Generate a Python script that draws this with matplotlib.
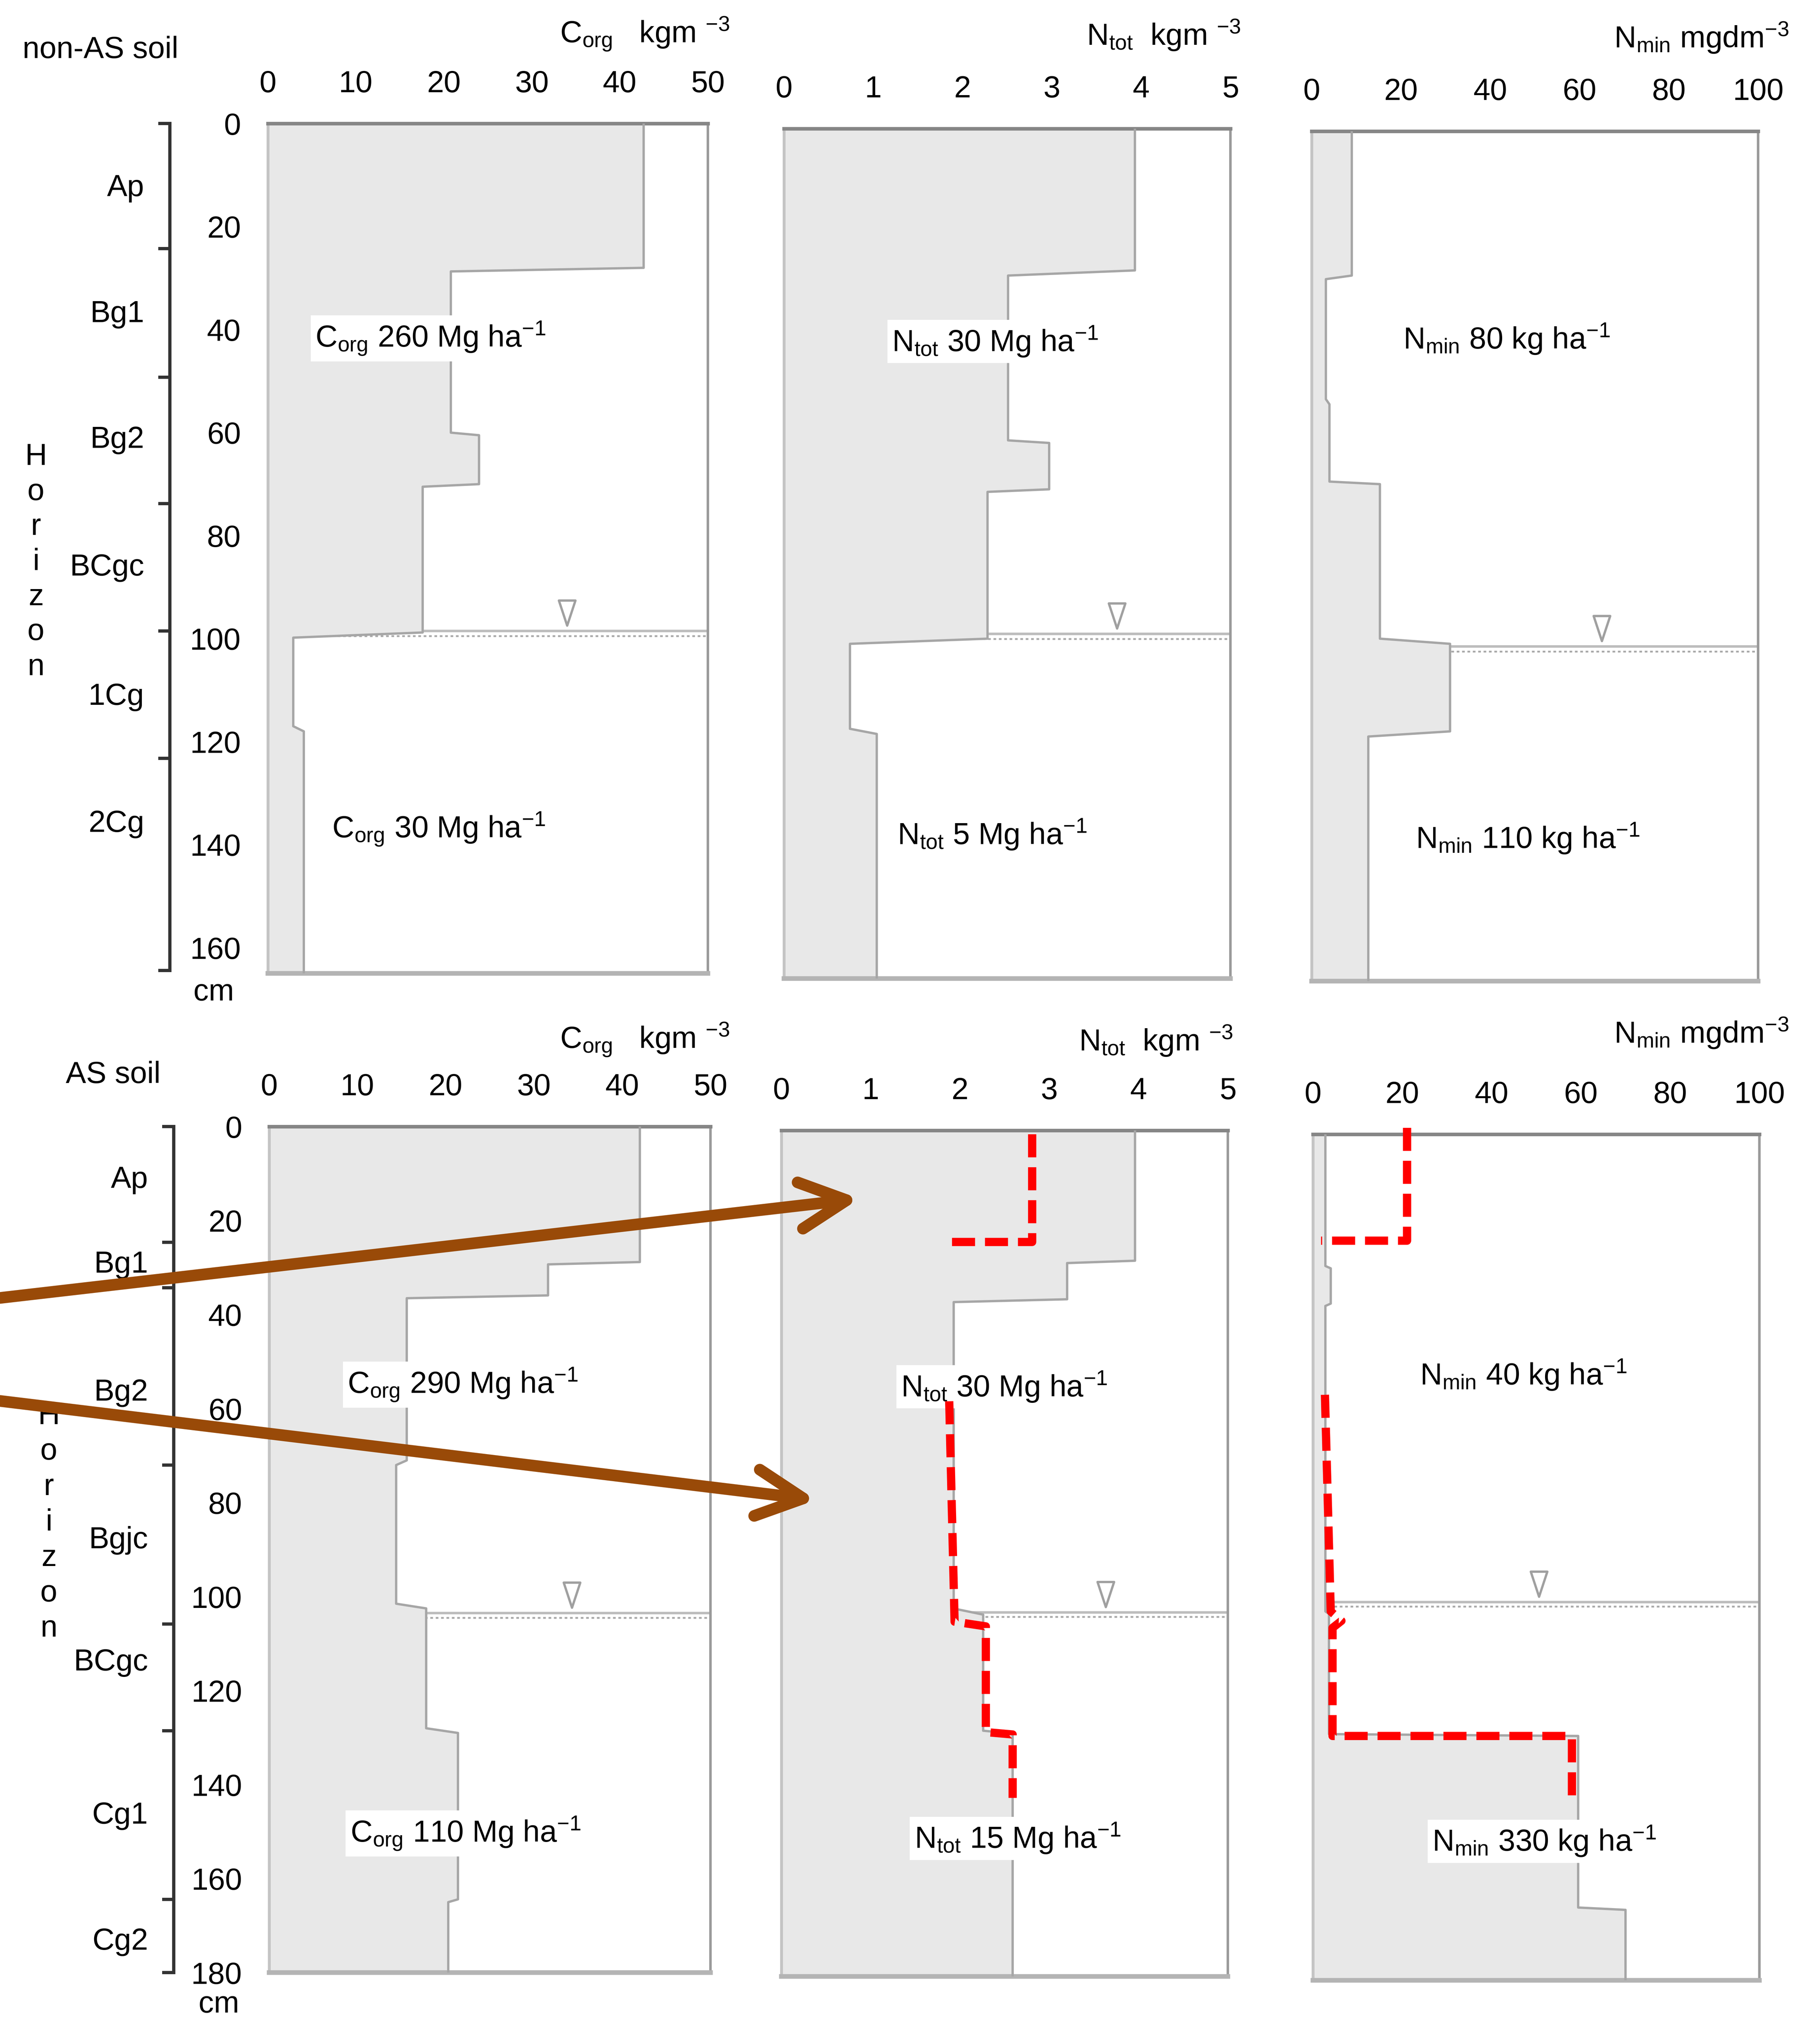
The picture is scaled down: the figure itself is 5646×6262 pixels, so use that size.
import numpy as np
import matplotlib
matplotlib.use("Agg")
import matplotlib.pyplot as plt
from matplotlib import font_manager
from matplotlib.path import Path
from matplotlib.patches import ConnectionPatch
from matplotlib.transforms import ScaledTranslation, blended_transform_factory

# font: narrow sans if there is one, otherwise Arial-like Liberation Sans
names_installed = {f.name for f in font_manager.fontManager.ttflist}
if "Liberation Sans Narrow" in names_installed:
    FAMILY, FS = "Liberation Sans Narrow", 19
else:
    FAMILY, FS = "Liberation Sans", 17
plt.rcParams["font.family"] = [FAMILY, "DejaVu Sans"]
plt.rcParams["mathtext.default"] = "regular"

# -----------------------------
# data (depth in cm)
# -----------------------------
# non-AS soil
hor_nonas = ["Ap", "Bg1", "Bg2", "BCgc", "1Cg", "2Cg"]
hor_bounds_nonas = [0, 24.25, 49.25, 73.75, 98.5, 123.25, 164.4]
hor_label_d_nonas = [12.5, 37, 61.4, 86.2, 111.3, 136]

corg_top_nonas = [0, 28.7, 60.5, 70.5, 99.8, 118]
corg_bot_nonas = [28, 60, 70, 98.8, 117, 165]
corg_val_nonas = [42.7, 20.8, 24.0, 17.6, 2.9, 4.1]

ntot_top_nonas = [0, 28.5, 61, 70.5, 100, 117.5]
ntot_bot_nonas = [27.5, 60.5, 70, 99, 116.5, 165]
ntot_val_nonas = [3.93, 2.51, 2.97, 2.28, 0.74, 1.04]

nmin_top_nonas = [0, 28.7, 53, 68.5, 99.5, 117.5]
nmin_bot_nonas = [28, 52, 68, 98.5, 116.5, 165]
nmin_val_nonas = [9.0, 3.2, 4.0, 15.3, 31.0, 12.7]

wt_nonas = [98.5, 98.1, 100.0]
wt_tri_x_nonas = [34.0, 3.73, 65.0]

# AS soil
hor_as = ["Ap", "Bg1", "Bg2", "Bgjc", "BCgc", "Cg1", "Cg2"]
hor_bounds_as = [0, 24.6, 34.3, 72, 105.8, 128.5, 164.4, 180]
hor_label_d_as = [11.3, 29.4, 56.6, 88, 114, 146.6, 173.4]

corg_top_as = [0, 29.3, 36.5, 72, 102.5, 129, 165]
corg_bot_as = [28.8, 35.9, 71, 101.5, 128, 164.4, 180]
corg_val_as = [42.0, 31.6, 15.6, 14.4, 17.8, 21.4, 20.3]

ntot_top_as = [0, 28.2, 36.5, 103, 128.3]
ntot_bot_as = [27.7, 35.9, 101.7, 127.7, 180]
ntot_val_as = [3.96, 3.2, 1.93, 2.26, 2.59]

nmin_top_as = [0, 28.5, 36.5, 102, 128, 165]
nmin_bot_as = [28, 36, 101.5, 127.6, 164.5, 180]
nmin_val_as = [2.8, 4.0, 2.8, 3.6, 59.4, 70.0]

wt_as = [103.5, 102.5, 99.5]
wt_tri_x_as = [34.3, 3.63, 50.6]

# red dashed overlays (AS soil)
ntot_red1_x = [2.81, 2.81, 1.84]
ntot_red1_d = [0.8, 23.7, 23.7]
ntot_red2_x = [1.88, 1.94, 2.29, 2.29, 2.59, 2.59]
ntot_red2_d = [57.6, 104.5, 105.5, 128, 128.5, 142]
nmin_red1_x = [21.1, 21.1, 1.8]
nmin_red1_d = [-1.4, 22.6, 22.6]
nmin_red2_x = [2.7, 4.0, 6.4, 4.4, 4.4, 58.0, 58.0]
nmin_red2_d = [55.4, 101.5, 103.5, 105, 128, 128, 141.6]

# -----------------------------
# layout helpers (reference pixel grid 1414 x 1568)
# -----------------------------
W, H = 1414.0, 1568.0
fig = plt.figure(figsize=(5646 / 400, 6262 / 400), dpi=400)

FILL = "#e8e8e8"
EDGE = "#a6a6a6"
RED = "#ff0000"
BROWN = "#994a08"

tri = Path([(-0.33, 0.5), (0.33, 0.5), (0, -0.5), (-0.33, 0.5)],
           [Path.MOVETO, Path.LINETO, Path.LINETO, Path.CLOSEPOLY])


def add_panel(left, top, width, dmax, pxcm, xmax, xticks, depth_labels):
    h = dmax * pxcm
    ax = fig.add_axes([left / W, 1 - (top + h) / H, width / W, h / H])
    ax.set_xlim(0, xmax)
    ax.set_ylim(dmax, 0)
    ax.xaxis.tick_top()
    ax.set_xticks(xticks)
    ax.set_xticklabels([str(t) for t in xticks])
    ax.tick_params(axis="x", length=0, pad=14, labelsize=FS)
    if depth_labels:
        ax.set_yticks(list(range(0, int(dmax) + 1, 20)))
        ax.tick_params(axis="y", length=0, pad=15, labelsize=FS)
    else:
        ax.set_yticks([])
    ax.spines["top"].set_color("#868686")
    ax.spines["top"].set_linewidth(2.0)
    ax.spines["right"].set_color("#9a9a9a")
    ax.spines["right"].set_linewidth(1.4)
    ax.spines["left"].set_color("#c4c4c4")
    ax.spines["left"].set_linewidth(1.6)
    ax.spines["bottom"].set_color("#b4b4b4")
    ax.spines["bottom"].set_linewidth(2.6)
    return ax


def draw_profile(ax, tops, bots, vals, wt, tri_x):
    d, v = [], []
    for t, b, val in zip(tops, bots, vals):
        d += [t, b]
        v += [val, val]
    xmax = ax.get_xlim()[1]
    ax.hlines(wt, 0, xmax, color="#bdbdbd", lw=1.4, zorder=1)
    ax.hlines(wt + 1.0, 0, xmax, color="#a8a8a8", lw=1.0,
              linestyles=(0, (1.5, 1.5)), zorder=1)
    ax.fill_betweenx(d, 0, v, color=FILL, lw=0, zorder=2)
    ax.plot(v, d, color=EDGE, lw=1.3, zorder=3)
    off = ax.transData + ScaledTranslation(0, 0.14, fig.dpi_scale_trans)
    ax.plot([tri_x], [wt], marker=tri, ms=14, mfc="white", mec="#a0a0a0",
            mew=1.3, ls="none", transform=off, zorder=4)


def label(ax, x, d, s):
    ax.text(x, d, s, ha="left", va="center", fontsize=FS, zorder=5,
            bbox=dict(fc="white", ec="none", pad=2.5))


def horizon_axis(x_line, ax_ref, bounds, names, label_d, x_label, dmax):
    pos = ax_ref.get_position()
    hax = fig.add_axes([x_line / W, pos.y0, 0.0001, pos.height])
    hax.set_ylim(dmax, 0)
    hax.set_xlim(0, 1)
    hax.patch.set_visible(False)
    for s in ["top", "right", "bottom"]:
        hax.spines[s].set_visible(False)
    hax.spines["left"].set_bounds(bounds[0], bounds[-1])
    hax.spines["left"].set_color("#333333")
    hax.spines["left"].set_linewidth(1.8)
    hax.set_xticks([])
    hax.set_yticks(bounds)
    hax.set_yticklabels([])
    hax.tick_params(axis="y", direction="out", length=6.5, width=1.8,
                    color="#333333")
    tr = blended_transform_factory(fig.transFigure, hax.transData)
    for name, d in zip(names, label_d):
        hax.text(x_label / W, d, name, transform=tr, ha="right",
                 va="center", fontsize=FS)
    return hax


def ftext(x, y, s, **kw):
    kw.setdefault("fontsize", FS)
    fig.text(x / W, 1 - y / H, s, **kw)


# -----------------------------
# top row: non-AS soil
# -----------------------------
ax1 = add_panel(208, 96, 342, 165, 4.0, 50, [0, 10, 20, 30, 40, 50], True)
ax2 = add_panel(609, 100, 347, 165, 4.0, 5, [0, 1, 2, 3, 4, 5], False)
ax3 = add_panel(1019, 102, 347, 165, 4.0, 100, [0, 20, 40, 60, 80, 100], False)

draw_profile(ax1, corg_top_nonas, corg_bot_nonas, corg_val_nonas, wt_nonas[0], wt_tri_x_nonas[0])
draw_profile(ax2, ntot_top_nonas, ntot_bot_nonas, ntot_val_nonas, wt_nonas[1], wt_tri_x_nonas[1])
draw_profile(ax3, nmin_top_nonas, nmin_bot_nonas, nmin_val_nonas, wt_nonas[2], wt_tri_x_nonas[2])

label(ax1, 5.4, 41.7, "C$_{org}$ 260 Mg ha$^{-1}$")
label(ax1, 7.3, 137, "C$_{org}$ 30 Mg ha$^{-1}$")
label(ax2, 1.21, 41.3, "N$_{tot}$ 30 Mg ha$^{-1}$")
label(ax2, 1.27, 137, "N$_{tot}$ 5 Mg ha$^{-1}$")
label(ax3, 20.5, 40.3, "N$_{min}$ 80 kg ha$^{-1}$")
label(ax3, 23.3, 137.3, "N$_{min}$ 110 kg ha$^{-1}$")

horizon_axis(132, ax1, hor_bounds_nonas, hor_nonas, hor_label_d_nonas, 112, 165)

ftext(78, 45, "non-AS soil", ha="center", va="baseline")
ftext(501, 33, "C$_{org}$   kgm $^{-3}$", ha="center", va="baseline")
ftext(904, 35, "N$_{tot}$  kgm $^{-3}$", ha="center", va="baseline")
ftext(1322, 37, "N$_{min}$ mgdm$^{-3}$", ha="center", va="baseline")
ftext(166, 777, "cm", ha="center", va="baseline")
for i, ch in enumerate("Horizon"):
    ftext(28, 355 + 27.2 * i, ch, ha="center", va="center")

# -----------------------------
# bottom row: AS soil
# -----------------------------
ax4 = add_panel(209, 875, 343, 180, 3.65, 50, [0, 10, 20, 30, 40, 50], True)
ax5 = add_panel(607, 878, 347, 180, 3.65, 5, [0, 1, 2, 3, 4, 5], False)
ax6 = add_panel(1020, 881, 347, 180, 3.65, 100, [0, 20, 40, 60, 80, 100], False)

draw_profile(ax4, corg_top_as, corg_bot_as, corg_val_as, wt_as[0], wt_tri_x_as[0])
draw_profile(ax5, ntot_top_as, ntot_bot_as, ntot_val_as, wt_as[1], wt_tri_x_as[1])
draw_profile(ax6, nmin_top_as, nmin_bot_as, nmin_val_as, wt_as[2], wt_tri_x_as[2])

label(ax4, 8.9, 54.9, "C$_{org}$ 290 Mg ha$^{-1}$")
label(ax4, 9.2, 150.4, "C$_{org}$ 110 Mg ha$^{-1}$")
label(ax5, 1.34, 54.5, "N$_{tot}$ 30 Mg ha$^{-1}$")
label(ax5, 1.49, 150.6, "N$_{tot}$ 15 Mg ha$^{-1}$")
label(ax6, 24.0, 51.2, "N$_{min}$ 40 kg ha$^{-1}$")
label(ax6, 26.7, 150.4, "N$_{min}$ 330 kg ha$^{-1}$")

red_kw = dict(color=RED, lw=4.6, ls=(0, (2.8, 1.2)), dash_capstyle="butt",
              clip_on=False, zorder=6)
ax5.plot(ntot_red1_x, ntot_red1_d, **red_kw)
ax5.plot(ntot_red2_x, ntot_red2_d, **red_kw)
ax6.plot(nmin_red1_x, nmin_red1_d, **red_kw)
ax6.plot(nmin_red2_x, nmin_red2_d, **red_kw)

horizon_axis(135, ax4, hor_bounds_as, hor_as, hor_label_d_as, 115, 180)

ftext(88, 841, "AS soil", ha="center", va="baseline")
ftext(501, 814, "C$_{org}$   kgm $^{-3}$", ha="center", va="baseline")
ftext(898, 816, "N$_{tot}$  kgm $^{-3}$", ha="center", va="baseline")
ftext(1322, 810, "N$_{min}$ mgdm$^{-3}$", ha="center", va="baseline")
ftext(170, 1563, "cm", ha="center", va="baseline")
for i, ch in enumerate("Horizon"):
    ftext(38, 1100 + 27.5 * i, ch, ha="center", va="center")

# brown arrows from the left edge into the AS Ntot panel
for y_tail, head in [(1008, (0.875, 14.5)), (1088, (0.39, 78.6))]:
    con = ConnectionPatch(xyA=(0, 1 - y_tail / H), coordsA=fig.transFigure,
                          xyB=head, coordsB=ax5.transData,
                          arrowstyle="->,head_length=2.6,head_width=1.3",
                          mutation_scale=10, color=BROWN, lw=6.5,
                          shrinkA=0, shrinkB=0, capstyle="round",
                          joinstyle="round", zorder=10)
    fig.add_artist(con)

fig.savefig("out.png", dpi=400)
